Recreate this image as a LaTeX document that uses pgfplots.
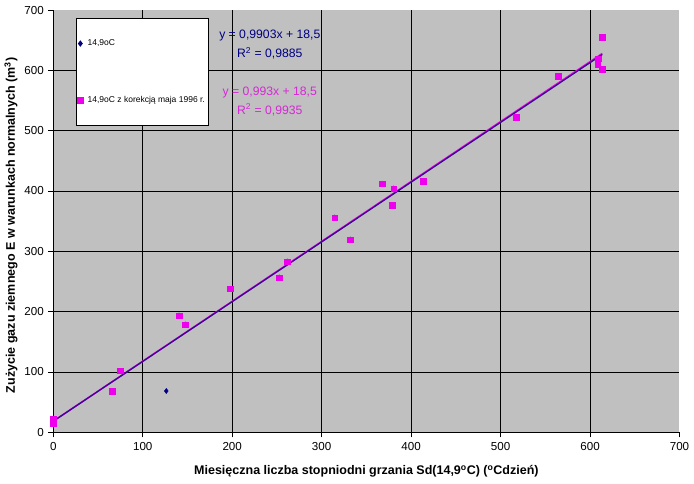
\documentclass[border=0pt]{standalone}
\usepackage{pgfplots}
\pgfplotsset{compat=1.18}
\usepackage{fontspec}
\setmainfont{Liberation Sans}
\definecolor{plotgray}{RGB}{192,192,192}
\definecolor{navyc}{RGB}{0,0,128}
\definecolor{pinkc}{RGB}{238,0,238}
\definecolor{pinktext}{RGB}{214,40,214}
\definecolor{trendc}{RGB}{55,10,140}
\begin{document}
\begin{tikzpicture}[x=1pt,y=1pt]
\path[use as bounding box, fill=white] (0,0) rectangle (694,483);
\begin{axis}[
  at={(53.3pt,50.7pt)}, anchor=south west,
  scale only axis, width=626.2pt, height=422.3pt,
  xmin=0, xmax=700, ymin=0, ymax=700,
  xtick={0,100,...,600}, ytick={0,100,...,600},
  extra x ticks={700}, extra y ticks={700},
  extra x tick style={grid=none}, extra y tick style={grid=none},
  grid=major, grid style={black, line width=0.8pt},
  axis x line*=bottom, axis y line*=left,
  axis line style={black, line width=0.8pt},
  tick align=outside, major tick length=5pt,
  tick style={black, line width=0.8pt},
  axis background/.style={fill=plotgray},
  /pgf/number format/assume math mode=true,
  ticklabel style={font=\fontsize{11.6}{12}\selectfont},
  xticklabel style={yshift=-2pt},
  yticklabel style={xshift=-1pt},
  xlabel={\bfseries Miesięczna liczba stopniodni grzania Sd(14,9\textsuperscript{o}C) (\textsuperscript{o}Cdzień)},
  ylabel={\bfseries Zużycie gazu ziemnego E w warunkach normalnych (m\textsuperscript{3})},
  label style={font=\fontsize{12.5}{13}\selectfont},
  xlabel style={at={(axis description cs:0.5,-0.0933)}, anchor=center},
  ylabel style={at={(axis description cs:-0.0675,0.49)}, anchor=center},
  clip=false,
  legend style={at={(axis cs:25,686)}, anchor=north west, draw=black, fill=white,
    font=\fontsize{8.5}{9}\selectfont, inner xsep=1.5pt, inner ysep=19pt, row sep=45pt,
    line width=0.8pt, /tikz/every odd column/.append style={column sep=2.5pt}},
  legend cell align=left,
]
\addplot[only marks, mark=diamond*, mark size=2.6pt, color=navyc] coordinates {
(0,22) (0,15) (66,68.5) (126.3,68.5) (140.5,193.5) (147.5,178.6) (197.5,238)
(252.6,256.5) (261.6,283) (314.5,356) (332,319.5) (367.8,412) (380.5,404)
(379,376) (413.6,416) (517.5,522) (564.5,590) (613.7,655) (608.5,610)
(609.2,619) (613.7,601.5)
};
\addlegendentry{14,9oC}
\addplot[only marks, mark=square*, mark size=2.8pt, color=pinkc] coordinates {
(0,22) (0,15) (66,68.5) (74.6,102) (140.5,193.5) (147.5,178.6) (197.5,238)
(252.6,256.5) (261.6,283) (314.5,356) (332,319.5) (367.8,412) (380.5,404)
(379,376) (413.6,416) (517.5,522) (564.5,590) (613.7,655) (608.5,610)
(609.2,619) (613.7,601.5)
};
\addlegendentry{14,9oC z korekcją maja 1996 r.}
\addplot[pinkc, line width=1.6pt, forget plot] coordinates {(0,18.5) (613.7,627.9)};
\addplot[trendc, line width=1.3pt, forget plot] coordinates {(0,18.5) (613.7,626.3)};
\node[navyc, font=\fontsize{12.2}{13}\selectfont] at (axis cs:242,658) {y = 0,9903x + 18,5};
\node[navyc, font=\fontsize{12.2}{13}\selectfont] at (axis cs:242,628) {R\textsuperscript{2} = 0,9885};
\node[pinktext, font=\fontsize{12.2}{13}\selectfont] at (axis cs:242,563) {y = 0,993x + 18,5};
\node[pinktext, font=\fontsize{12.2}{13}\selectfont] at (axis cs:242,534.5) {R\textsuperscript{2} = 0,9935};
\end{axis}
\end{tikzpicture}
\end{document}
